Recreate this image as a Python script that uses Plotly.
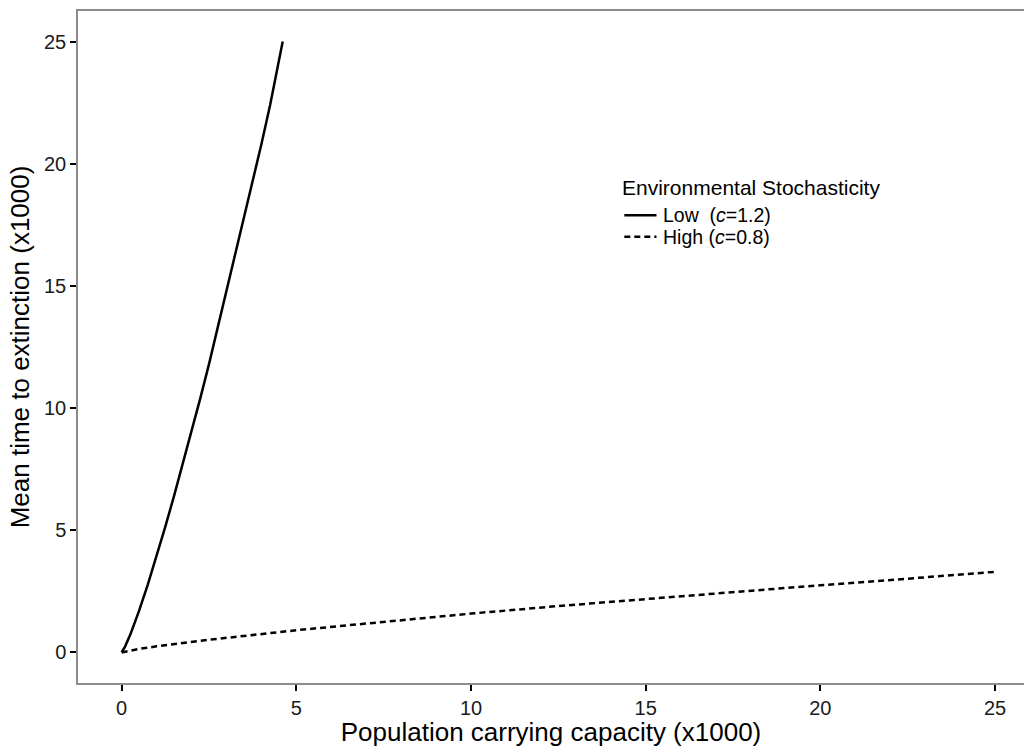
import plotly.graph_objects as go

# Carrying capacity K (x1000) and mean time to extinction T (x1000)
low_k = [0, 0.1, 0.25, 0.5, 0.75, 1.0, 1.25, 1.5, 1.75, 2.0, 2.25, 2.5,
         2.75, 3.0, 3.25, 3.5, 3.75, 4.0, 4.25, 4.61]
low_t = [0, 0.25, 0.74, 1.71, 2.79, 3.94, 5.15, 6.41, 7.71, 9.05, 10.4, 11.8,
         13.3, 14.7, 16.2, 17.7, 19.2, 20.8, 22.4, 25.0]

high_k = [0, 0.25, 0.5, 1, 2.5, 5, 7.5, 10, 12.5, 15, 17.5, 20, 22.5, 25]
high_t = [0, 0.08, 0.145, 0.25, 0.52, 0.91, 1.26, 1.59, 1.90, 2.19, 2.48, 2.75, 3.02, 3.30]

tick_vals = [0, 5, 10, 15, 20, 25]
tick_text = ["0", "5", "10", "15", "20", "25"]

legend_title = "Environmental Stochasticity"
legend_labels = ["Low  (<i>c</i>=1.2)", "High (<i>c</i>=0.8)"]
legend_dashes = ["solid", "6px,4px"]

FONT = "Liberation Sans, Arial, sans-serif"
LINE_W = 2.5

fig = go.Figure()
fig.add_trace(go.Scatter(
    x=low_k, y=low_t, mode="lines", name=legend_labels[0], showlegend=False,
    line=dict(color="black", width=LINE_W, dash=legend_dashes[0]),
))
fig.add_trace(go.Scatter(
    x=high_k, y=high_t, mode="lines", name=legend_labels[1], showlegend=False,
    line=dict(color="black", width=LINE_W, dash=legend_dashes[1]),
))

axis_common = dict(
    showgrid=False, zeroline=False,
    ticks="outside", ticklen=6, tickwidth=1.5, tickcolor="black",
    tickfont=dict(family=FONT, size=20, color="#1a1a1a"),
    showline=True, linecolor="#8c8c8c", linewidth=1.5,
    tickvals=tick_vals, ticktext=tick_text,
)

fig.update_xaxes(
    **axis_common, range=[-1.25, 25.83], mirror=True,
    title=dict(text="Population carrying capacity (x1000)",
               font=dict(family=FONT, size=26, color="black"), standoff=2),
)
fig.update_yaxes(
    **axis_common, range=[-1.25, 26.25], mirror=False,
    title=dict(text="Mean time to extinction (x1000)",
               font=dict(family=FONT, size=26, color="black"), standoff=7),
)

# Legend block placed inside the panel (paper coordinates)
leg_x0, leg_top = 0.5735, 0.737
row_h = 0.032
key_w = 0.034
fig.add_annotation(
    x=leg_x0, y=leg_top, xref="paper", yref="paper",
    xanchor="left", yanchor="middle", showarrow=False, borderpad=0,
    text=legend_title, font=dict(family=FONT, size=21, color="black"),
)
for i, (lab, dash) in enumerate(zip(legend_labels, legend_dashes)):
    yy = leg_top - 0.041 - i * row_h
    fig.add_shape(
        type="line", xref="paper", yref="paper",
        x0=leg_x0 + 0.004, x1=leg_x0 + 0.004 + key_w, y0=yy, y1=yy,
        line=dict(color="black", width=LINE_W, dash=dash),
    )
    fig.add_annotation(
        x=leg_x0 + 0.004 + key_w + 0.006, y=yy, xref="paper", yref="paper",
        xanchor="left", yanchor="middle", showarrow=False, borderpad=0,
        text=lab, font=dict(family=FONT, size=19.5, color="black"),
    )

fig.update_layout(
    width=1024, height=747,
    margin=dict(l=78, r=0, t=11, b=64),
    plot_bgcolor="white", paper_bgcolor="white",
    showlegend=False,
)

fig.write_html("out.html")
